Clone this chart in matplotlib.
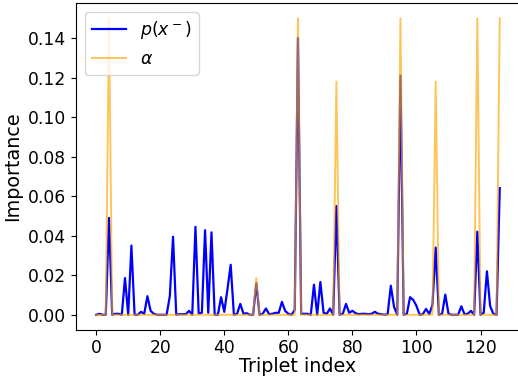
import matplotlib
matplotlib.use("Agg")
import matplotlib.pyplot as plt
import numpy as np

# importance per triplet
p_neg = [0.0, 0.0005, 0.0, 0.0, 0.049, 0.0, 0.0005, 0.0005, 0.0, 0.0186,
         0.0, 0.035, 0.0, 0.0, 0.0015, 0.0005, 0.0094, 0.002, 0.0005, 0.0,
         0.0, 0.0, 0.0, 0.0095, 0.0395, 0.0, 0.0003, 0.0003, 0.0003, 0.002,
         0.0, 0.0445, 0.0007, 0.001, 0.0428, 0.001, 0.0417, 0.0, 0.0, 0.0089,
         0.0015, 0.013, 0.0253, 0.0, 0.0005, 0.0055, 0.0005, 0.0008, 0.0, 0.0,
         0.016, 0.0, 0.0005, 0.0032, 0.0003, 0.0005, 0.001, 0.001, 0.0065, 0.002,
         0.0005, 0.0, 0.0025, 0.140, 0.0005, 0.0005, 0.0005, 0.0, 0.0152, 0.0,
         0.0166, 0.001, 0.0005, 0.0032, 0.0, 0.055, 0.0, 0.0005, 0.0055, 0.001,
         0.002, 0.0008, 0.0003, 0.0005, 0.0005, 0.0003, 0.0005, 0.0015, 0.0005, 0.0003,
         0.0, 0.0003, 0.0147, 0.004, 0.0, 0.121, 0.0, 0.0005, 0.0089, 0.0075,
         0.0045, 0.0, 0.0003, 0.003, 0.0003, 0.005, 0.034, 0.0, 0.0005, 0.0102,
         0.0005, 0.0, 0.0, 0.0, 0.0043, 0.0003, 0.0005, 0.002, 0.0, 0.042,
         0.0, 0.001, 0.022, 0.0044, 0.0005, 0.0, 0.0641]

alpha_idx = [4, 50, 63, 75, 95, 106, 119, 126]
alpha_val = [0.15, 0.0186, 0.15, 0.118, 0.15, 0.118, 0.15, 0.15]

n = len(p_neg)
x = np.arange(n)
alpha = np.zeros(n)
alpha[alpha_idx] = alpha_val

fig = plt.figure(figsize=(5.18, 3.78), dpi=100)
ax = fig.add_axes([0.1467, 0.128, 0.857, 0.863])

ax.plot(x, p_neg, color='blue', lw=1.6, label=r'$p(x^-)$')
ax.plot(x, alpha, color='orange', lw=1.4, alpha=0.65, label=r'$\alpha$')

ax.set_xlabel("Triplet index", fontsize=13.8, labelpad=0)
ax.set_ylabel("Importance", fontsize=13.8)
ax.tick_params(labelsize=12.3)
ax.legend(loc="upper left", prop={'size': 12.5})

fig.savefig("out.png", dpi=100)
